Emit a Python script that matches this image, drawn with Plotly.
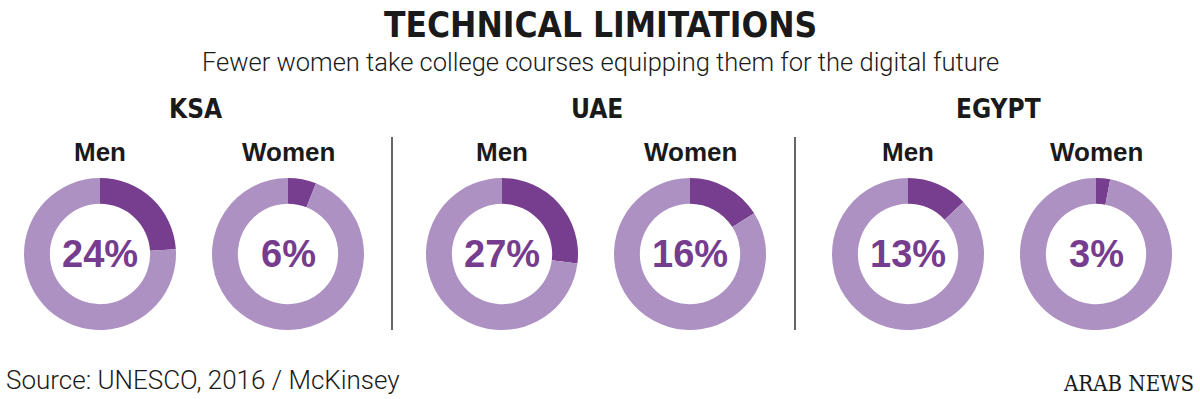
import plotly.graph_objects as go

W, H = 1200, 399

countries = ["KSA", "UAE", "EGYPT"]
groups = ["Men", "Women"]
pct_men = [24, 27, 13]
pct_women = [6, 16, 3]

DARK = "#773D8E"
LIGHT = "#AD91C2"
PCT_COLOR = "#763C8E"

# layout (pixels)
centers_x = [[100, 288], [502, 690], [908, 1096]]
center_y = 254
R = 76
country_x = [195, 597, 998]
dividers_x = [392, 795]

def px(x):
    return x / W

def py(y):
    return 1 - y / H

fig = go.Figure()
annotations = []
shapes = []

for ci, country in enumerate(countries):
    vals = [pct_men[ci], pct_women[ci]]
    for gi, grp in enumerate(groups):
        cx = centers_x[ci][gi]
        v = vals[gi]
        fig.add_trace(go.Pie(
            values=[v, 100 - v],
            labels=[grp + " yes", grp + " no"],
            hole=0.66,
            sort=False,
            direction="clockwise",
            rotation=0,
            marker=dict(colors=[DARK, LIGHT], line=dict(width=0)),
            textinfo="none",
            hoverinfo="skip",
            showlegend=False,
            domain=dict(x=[px(cx - R), px(cx + R)], y=[py(center_y + R), py(center_y - R)]),
        ))
        annotations.append(dict(
            x=px(cx), y=py(center_y), xref="paper", yref="paper",
            text=f"{v}%", showarrow=False,
            font=dict(family="Liberation Sans, Arial", size=38, color=PCT_COLOR, weight="bold"),
            xanchor="center", yanchor="middle",
        ))
        annotations.append(dict(
            x=px(cx), y=py(152), xref="paper", yref="paper",
            text=grp, showarrow=False,
            font=dict(family="Liberation Sans, Arial", size=26, color="#1a1a1a", weight="bold"),
            xanchor="center", yanchor="middle",
        ))
    annotations.append(dict(
        x=px(country_x[ci]), y=py(109), xref="paper", yref="paper",
        text=country, showarrow=False,
        font=dict(family="DejaVu Sans Condensed, Liberation Sans", size=26, color="#1a1a1a", weight="bold"),
        xanchor="center", yanchor="middle",
    ))

for dx in dividers_x:
    shapes.append(dict(type="line", xref="paper", yref="paper",
                       x0=px(dx), x1=px(dx), y0=py(137), y1=py(330),
                       line=dict(color="#333333", width=1.5)))

annotations.append(dict(
    x=0.5, y=py(25), xref="paper", yref="paper",
    text="TECHNICAL LIMITATIONS", showarrow=False,
    font=dict(family="DejaVu Sans Condensed, Liberation Sans", size=35, color="#1a1a1a", weight="bold"),
    xanchor="center", yanchor="middle",
))
annotations.append(dict(
    x=0.5, y=py(62), xref="paper", yref="paper",
    text="Fewer women take college courses equipping them for the digital future", showarrow=False,
    font=dict(family="Roboto, Liberation Sans", size=25.5, color="#1a1a1a", weight=300),
    xanchor="center", yanchor="middle",
))
annotations.append(dict(
    x=px(4), y=py(380), xref="paper", yref="paper",
    text="Source: UNESCO, 2016 / McKinsey", showarrow=False,
    font=dict(family="Roboto, Liberation Sans", size=26, color="#1a1a1a", weight=300),
    xanchor="left", yanchor="middle",
))
annotations.append(dict(
    x=px(1196), y=py(383), xref="paper", yref="paper",
    text="ARAB NEWS", showarrow=False,
    font=dict(family="DejaVu Serif Condensed, Liberation Serif", size=22, color="#1a1a1a"),
    xanchor="right", yanchor="middle",
))

fig.update_layout(
    width=W, height=H,
    margin=dict(l=0, r=0, t=0, b=0),
    paper_bgcolor="white", plot_bgcolor="white",
    annotations=annotations, shapes=shapes,
)

fig.write_html("out.html", config={"displayModeBar": False},
               post_script="document.body.style.margin='0';document.body.style.overflow='hidden';")
